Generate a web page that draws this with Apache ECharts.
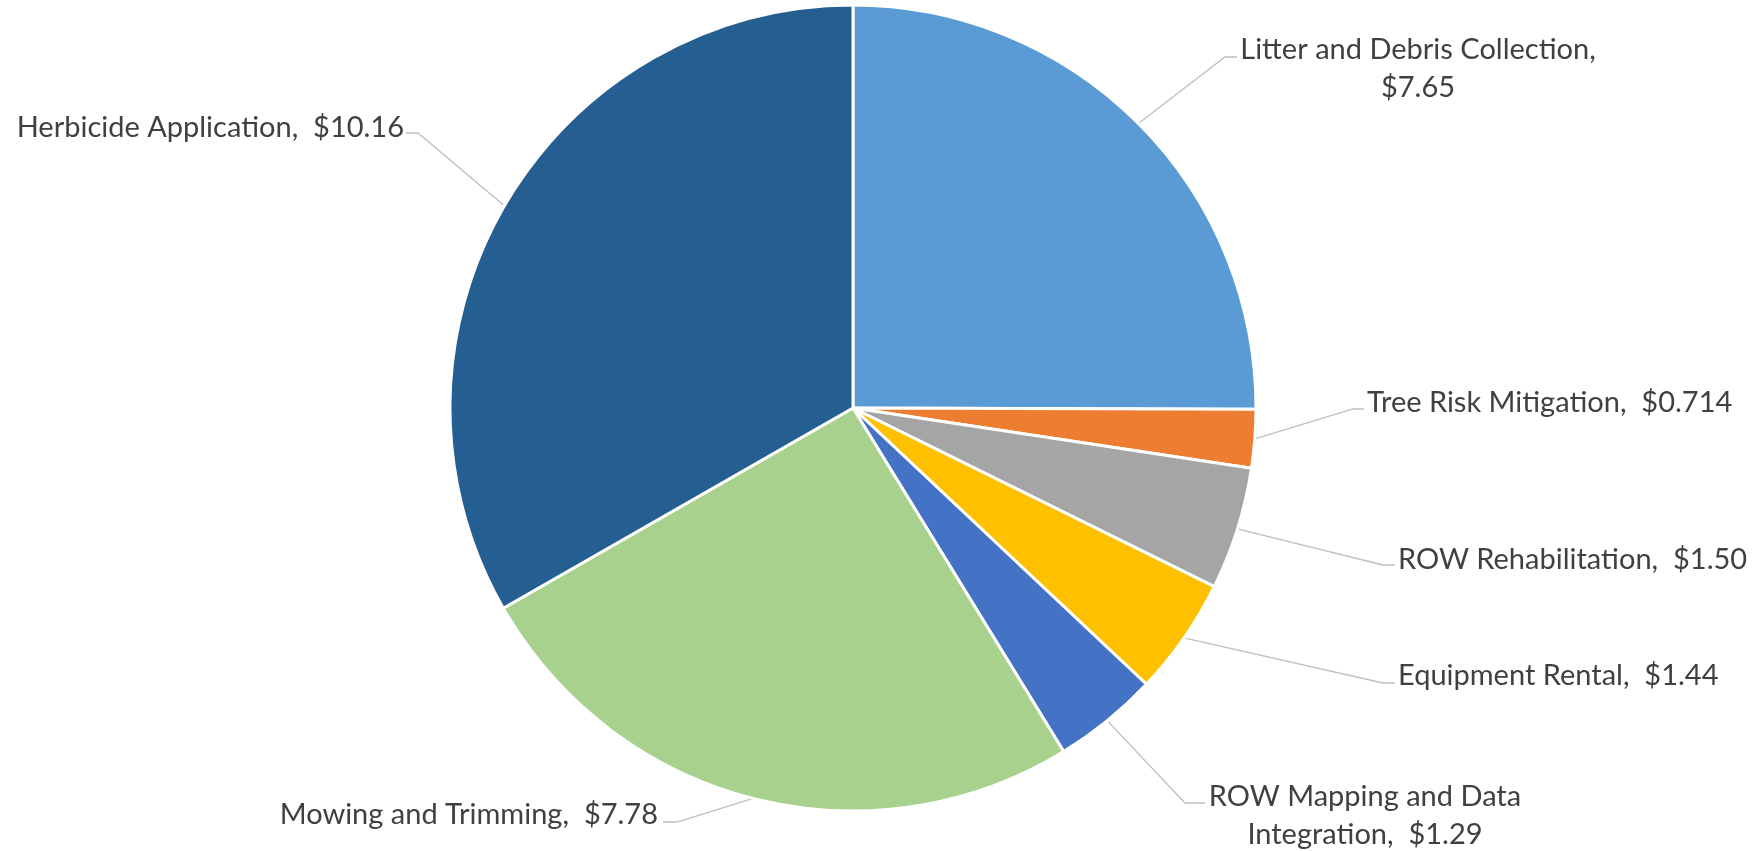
<!DOCTYPE html>
<html>
<head>
<meta charset="utf-8">
<script src="https://cdn.jsdelivr.net/npm/echarts@6/dist/echarts.min.js"></script>
<style>
  html, body { margin: 0; padding: 0; background: #ffffff; }
  #pie-chart { width: 1754px; height: 851px; }
</style>
</head>
<body>
<div id="pie-chart"></div>
<script>
// slice names and values (millions of dollars), clockwise from 12 o'clock
var categories = ['Litter and Debris Collection', 'Tree Risk Mitigation', 'ROW Rehabilitation',
                  'Equipment Rental', 'ROW Mapping and Data Integration', 'Mowing and Trimming',
                  'Herbicide Application'];
var values = [7.65, 0.714, 1.50, 1.44, 1.29, 7.78, 10.16];
var colors = ['#5B9BD5', '#ED7D31', '#A5A5A5', '#FFC000', '#4472C4', '#A9D18E', '#255E91'];

// where each data label sits (text anchor + leader line elbow), Excel "best fit" look
var labelSpots = [
  {x: 1418, y: 69,  align: 'center', elbow: [1225, 57],  end: [1237, 57]},
  {x: 1367, y: 403, align: 'left',   elbow: [1353, 409], end: [1364, 409]},
  {x: 1398, y: 560, align: 'left',   elbow: [1383, 565], end: [1395, 565]},
  {x: 1398, y: 676, align: 'left',   elbow: [1383, 683], end: [1395, 683]},
  {x: 1365, y: 816, align: 'center', elbow: [1185, 803], end: [1205, 803]},
  {x: 658,  y: 815, align: 'right',  elbow: [677, 822],  end: [663, 822]},
  {x: 404,  y: 128, align: 'right',  elbow: [418, 133],  end: [406, 133]}
];

function money(v) {
  return '$' + (v < 1 ? v.toFixed(3) : v.toFixed(2));
}

function labelText(p) {
  var i = p.dataIndex;
  if (i === 0) return p.name + ',\n' + money(p.value);
  if (i === 4) return 'ROW Mapping and Data\nIntegration,  ' + money(p.value);
  return p.name + ',  ' + money(p.value);
}

var chart = echarts.init(document.getElementById('pie-chart'));

var option = {
  backgroundColor: '#ffffff',
  animation: false,
  series: [{
    type: 'pie',
    center: [853, 408],
    radius: 403,
    startAngle: 90,
    clockwise: true,
    avoidLabelOverlap: false,
    itemStyle: { borderColor: '#ffffff', borderWidth: 3 },
    label: {
      show: true,
      position: 'outside',
      formatter: labelText,
      color: '#404040',
      fontFamily: 'Lato',
      fontSize: 29,
      lineHeight: 38
    },
    labelLine: {
      show: true,
      length: 20,
      length2: 10,
      lineStyle: { color: '#BFBFBF', width: 1.3 }
    },
    labelLayout: function (params) {
      var s = labelSpots[params.dataIndex];
      var p0 = params.labelLinePoints ? params.labelLinePoints[0] : s.elbow;
      return {
        x: s.x,
        y: s.y,
        align: s.align,
        verticalAlign: 'middle',
        labelLinePoints: [p0, s.elbow, s.end]
      };
    },
    data: categories.map(function (name, i) {
      return { name: name, value: values[i], itemStyle: { color: colors[i] } };
    })
  }]
};

chart.setOption(option);
</script>
</body>
</html>
